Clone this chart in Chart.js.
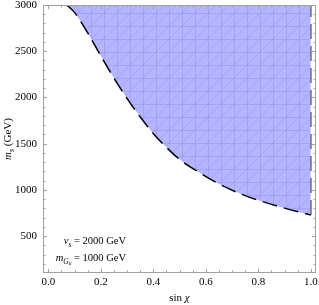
<!DOCTYPE html>
<html>
<head>
<meta charset="utf-8">
<script src="https://cdn.jsdelivr.net/npm/chart.js@4.4.1/dist/chart.umd.min.js"></script>
<style>
  html, body { margin: 0; padding: 0; background: #fff; }
</style>
</head>
<body>
<canvas id="chart" width="319" height="305"></canvas>
<script>
// data
const sinChi  = [0.07, 0.10, 0.15, 0.20, 0.25, 0.30, 0.35, 0.40, 0.45, 0.50, 0.58, 0.65, 0.74, 0.80, 0.90, 1.00];
const msCurve = [3000, 2920, 2700, 2450, 2210, 1990, 1790, 1610, 1460, 1330, 1180, 1065, 948, 888, 802, 727];
const topEdgeX = [0.07, 1.0];
const topEdgeY = [3000, 3000];
const rightEdgeX = [1.0, 1.0];
const rightEdgeY = [727, 3000];

const xTicks = [0, 0.2, 0.4, 0.6, 0.8, 1.0];
const xTickLabels = ['0.0', '0.2', '0.4', '0.6', '0.8', '1.0'];
const yTicks = [500, 1000, 1500, 2000, 2500, 3000];
const yTickLabels = ['500', '1000', '1500', '2000', '2500', '3000'];

const SERIF = '"Liberation Serif", "DejaVu Serif", serif';

const canvas = document.getElementById('chart');
const ctx = canvas.getContext('2d');

function pts(xs, ys) {
  return xs.map((v, i) => ({x: v, y: ys[i]}));
}

// light blue fill with the faint mesh lines
function meshPattern() {
  const t = document.createElement('canvas');
  t.width = 13; t.height = 13;
  const g = t.getContext('2d');
  g.fillStyle = 'rgb(180,180,255)';
  g.fillRect(0, 0, 13, 13);
  g.strokeStyle = 'rgba(140,140,235,0.4)';
  g.lineWidth = 1;
  g.beginPath();
  g.moveTo(0, 13); g.lineTo(13, 0);
  g.moveTo(0, 0.5); g.lineTo(13, 0.5);
  g.moveTo(0.5, 0); g.lineTo(0.5, 13);
  g.stroke();
  return ctx.createPattern(t, 'repeat');
}

// draws runs of text with italics / subscripts
function drawRuns(c, runs, x, y, align) {
  let w = 0;
  runs.forEach(r => {
    c.font = (r.it ? 'italic ' : '') + r.size + 'px ' + SERIF;
    r.w = c.measureText(r.t).width;
    w += r.w;
  });
  let cx = align === 'right' ? x - w : align === 'center' ? x - w / 2 : x;
  runs.forEach(r => {
    c.font = (r.it ? 'italic ' : '') + r.size + 'px ' + SERIF;
    c.fillText(r.t, cx, y + (r.dy || 0));
    cx += r.w;
  });
}

const framePlugin = {
  id: 'framePlugin',
  afterDraw(chart) {
    const c = chart.ctx;
    const a = chart.chartArea;
    const xs = chart.scales.x, ys = chart.scales.y;
    c.save();
    c.strokeStyle = '#a0a0a0';
    c.lineWidth = 1;
    c.strokeRect(a.left + 0.5, a.top + 0.5, a.right - a.left - 1, a.bottom - a.top - 1);

    c.beginPath();
    // x ticks (major + minor), bottom and top
    for (let k = 0; k <= 20; k++) {
      const v = k * 0.05;
      const major = k % 4 === 0;
      const len = major ? 4 : 2.5;
      const px = Math.round(xs.getPixelForValue(v)) + 0.5;
      c.moveTo(px, a.bottom); c.lineTo(px, a.bottom - len);
      c.moveTo(px, a.top); c.lineTo(px, a.top + len);
    }
    // y ticks, left and right
    for (let v = 200; v <= 3000; v += 100) {
      const major = v % 500 === 0;
      const len = major ? 4 : 2.5;
      const py = Math.round(ys.getPixelForValue(v)) + 0.5;
      c.moveTo(a.left, py); c.lineTo(a.left + len, py);
      c.moveTo(a.right, py); c.lineTo(a.right - len, py);
    }
    c.stroke();

    c.fillStyle = '#000';
    c.font = '11px ' + SERIF;
    c.textBaseline = 'middle';
    c.textAlign = 'center';
    xTicks.forEach((v, i) => c.fillText(xTickLabels[i], xs.getPixelForValue(v), a.bottom + 9));
    c.textAlign = 'right';
    yTicks.forEach((v, i) => c.fillText(yTickLabels[i], a.left - 6, ys.getPixelForValue(v)));

    // axis titles
    c.textAlign = 'left';
    c.textBaseline = 'alphabetic';
    drawRuns(c, [{t: 'sin ', size: 11}, {t: 'χ', size: 11, it: true}], (a.left + a.right) / 2, 301, 'center');
    c.save();
    c.translate(11, (a.top + a.bottom) / 2);
    c.rotate(-Math.PI / 2);
    drawRuns(c, [{t: 'm', size: 11, it: true}, {t: 's', size: 8, it: true, dy: 2.5}, {t: ' (GeV)', size: 11}], 0, 0, 'center');
    c.restore();

    // annotation
    drawRuns(c, [{t: 'v', size: 10.5, it: true}, {t: 's', size: 7.5, it: true, dy: 2.5}, {t: ' = 2000 GeV', size: 10.5}], 126, 244, 'right');
    drawRuns(c, [{t: 'm', size: 10.5, it: true}, {t: 'G', size: 7.5, it: true, dy: 2.5}, {t: 'u', size: 5.5, it: true, dy: 4}, {t: ' = 1000 GeV', size: 10.5}], 126, 261, 'right');
    c.restore();
  }
};

const fillPattern = meshPattern();

new Chart(canvas, {
  type: 'line',
  data: {
    datasets: [
      {
        data: pts(sinChi, msCurve),
        fill: 'end',
        backgroundColor: fillPattern,
        borderColor: '#000',
        borderWidth: 1.5,
        borderDash: [15, 7],
        cubicInterpolationMode: 'monotone',
        pointRadius: 0
      },
      {
        data: pts(topEdgeX, topEdgeY),
        fill: false,
        borderColor: '#555',
        borderWidth: 2,
        borderDash: [15, 7],
        pointRadius: 0
      },
      {
        data: pts(rightEdgeX, rightEdgeY),
        fill: false,
        borderColor: '#333',
        borderWidth: 1.5,
        borderDash: [15, 7],
        pointRadius: 0
      }
    ]
  },
  options: {
    responsive: false,
    devicePixelRatio: 1,
    animation: false,
    layout: { padding: { left: 43, top: 5, right: 3, bottom: 32 } },
    plugins: { legend: { display: false }, tooltip: { enabled: false } },
    scales: {
      x: { type: 'linear', min: -0.02, max: 1.02, display: false },
      y: { type: 'linear', min: 100, max: 3000, display: false }
    }
  },
  plugins: [framePlugin]
});
</script>
</body>
</html>
